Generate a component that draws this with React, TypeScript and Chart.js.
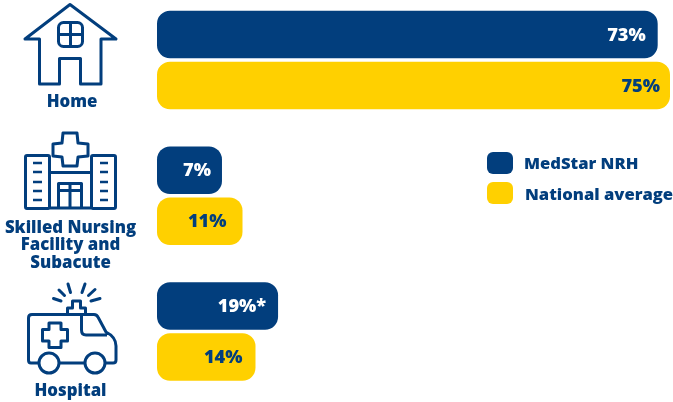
import React, { useEffect, useRef } from "react";
import { Chart, registerables } from "chart.js";

Chart.register(...registerables);

const NAVY = "#023e7d";
const YELLOW = "#ffd000";
const FONT = "'Open Sans', Lato, sans-serif";

const categories = ["Home", "Skilled Nursing Facility and Subacute", "Hospital"];
const categoryLines = [["Home"], ["Skilled Nursing", "Facility and", "Subacute"], ["Hospital"]];
const seriesNames = ["MedStar NRH", "National average"];
// Bar lengths as drawn in the picture (the small bars are not to the same scale as their labels)
const medstarLengths = [73.2, 9.5, 17.7];
const nationalLengths = [75, 12.5, 14.4];
const medstarLabels = ["73%", "7%", "19%*"];
const nationalLabels = ["75%", "11%", "14%"];

function stroke(ctx: CanvasRenderingContext2D, draw: (p: Path2D) => void, w = 3) {
  const p = new Path2D();
  draw(p);
  ctx.lineWidth = w;
  ctx.stroke(p);
}
function poly(p: Path2D, pts: number[][], close = false) {
  pts.forEach(([x, y], i) => (i ? p.lineTo(x, y) : p.moveTo(x, y)));
  if (close) p.closePath();
}

function drawHome(ctx: CanvasRenderingContext2D) {
  stroke(ctx, (p) => {
    poly(p, [[25, 39], [70, 4.5], [116, 39], [101, 39], [101, 84], [80.5, 84], [80.5, 58.5], [59.5, 58.5], [59.5, 84], [39.5, 84], [39.5, 39]], true);
    p.roundRect(58.5, 22.5, 24, 24, 5);
    poly(p, [[70.5, 22.5], [70.5, 46.5]]);
    poly(p, [[58.5, 34.5], [82.5, 34.5]]);
  });
}
function drawHospital(ctx: CanvasRenderingContext2D) {
  stroke(ctx, (p) => {
    poly(p, [[63, 133], [77, 133], [78, 143], [88, 144], [88, 156], [78, 157], [77, 166], [63, 166], [62, 157], [53, 156], [53, 144], [62, 143]], true);
    p.roundRect(25.5, 155.5, 24, 53, 1.5);
    p.roundRect(91.5, 155.5, 24, 53, 1.5);
    poly(p, [[49.5, 172.5], [91.5, 172.5]]);
    poly(p, [[49.5, 208], [91.5, 208]]);
    p.rect(58.5, 183.5, 23, 24.5);
    poly(p, [[58.5, 190.5], [81.5, 190.5]]);
    poly(p, [[70, 183.5], [70, 208]]);
  });
  stroke(ctx, (p) => {
    [163, 172, 182, 191, 200].forEach((y) => {
      poly(p, [[33, y], [42, y]]);
      poly(p, [[100, y], [108, y]]);
    });
  }, 2.6);
}
function drawAmbulance(ctx: CanvasRenderingContext2D) {
  stroke(ctx, (p) => {
    p.moveTo(39, 363);
    p.lineTo(31, 363);
    p.quadraticCurveTo(28.5, 363, 28.5, 360);
    p.lineTo(28.5, 318);
    p.quadraticCurveTo(28.5, 314.5, 32, 314.5);
    p.lineTo(94, 314.5);
    p.quadraticCurveTo(97, 314.5, 98.5, 318);
    p.lineTo(106, 332);
    p.quadraticCurveTo(116, 337, 116, 346);
    p.lineTo(116, 360);
    p.quadraticCurveTo(116, 363, 113, 363);
    p.lineTo(105, 363);
    p.moveTo(85, 363);
    p.lineTo(59, 363);
    p.moveTo(59, 363);
    p.arc(49, 363, 10, 0, Math.PI * 2);
    p.moveTo(105, 363);
    p.arc(95, 363, 10, 0, Math.PI * 2);
    p.moveTo(81.5, 314.5);
    p.lineTo(81.5, 330);
    p.quadraticCurveTo(81.5, 335, 86, 335);
    p.lineTo(107, 335);
    poly(p, [[49, 323], [61, 323], [61, 329.5], [67.5, 329.5], [67.5, 341], [61, 341], [61, 347.5], [49, 347.5], [49, 341], [42.5, 341], [42.5, 329.5], [49, 329.5]], true);
    poly(p, [[67.5, 314.5], [67.5, 308], [72.5, 308], [72.5, 301], [80.5, 301], [80.5, 308], [85.5, 308], [85.5, 314.5]]);
  });
  ctx.lineCap = "round";
  stroke(ctx, (p) => {
    poly(p, [[53.5, 298.5], [61, 301]]);
    poly(p, [[59, 290], [64.5, 295.5]]);
    poly(p, [[68, 284], [70.5, 292.5]]);
    poly(p, [[85, 284], [82, 292.5]]);
    poly(p, [[95, 289.5], [88.5, 295.5]]);
    poly(p, [[100, 298.5], [91, 301]]);
  });
  ctx.lineCap = "butt";
}

const decorPlugin = {
  id: "decor",
  afterDatasetsDraw(chart: any) {
    const ctx: CanvasRenderingContext2D = chart.ctx;
    ctx.save();
    ctx.strokeStyle = NAVY;
    ctx.lineJoin = "round";
    drawHome(ctx);
    drawHospital(ctx);
    drawAmbulance(ctx);

    // Category labels below the icons
    ctx.fillStyle = NAVY;
    ctx.font = `800 16.8px ${FONT}`;
    ctx.textAlign = "center";
    ctx.textBaseline = "middle";
    const firstLineY = [102, 228, 391];
    const centerX = [72, 70.5, 70.5];
    categoryLines.forEach((lines, i) =>
      lines.forEach((line, j) => ctx.fillText(line, centerX[i], firstLineY[i] + j * 17.7))
    );

    // Value labels inside the bars
    ctx.textAlign = "right";
    ctx.font = `800 18.2px ${FONT}`;
    const labels = [medstarLabels, nationalLabels];
    const colors = ["#ffffff", NAVY];
    const insets = [[12, 11, 12], [10, 16, 13]];
    chart.data.datasets.forEach((_: any, d: number) => {
      chart.getDatasetMeta(d).data.forEach((bar: any, i: number) => {
        ctx.fillStyle = colors[d];
        ctx.fillText(labels[d][i], bar.x - insets[d][i], bar.y + 1);
      });
    });

    // Legend
    const legendY = [163, 193];
    const legendTextX = [524, 525];
    const legendTextDy = [1, 2];
    const swatches = [NAVY, YELLOW];
    ctx.textAlign = "left";
    ctx.font = `800 16.6px ${FONT}`;
    seriesNames.forEach((name, i) => {
      ctx.fillStyle = swatches[i];
      ctx.beginPath();
      ctx.roundRect(487, legendY[i] - 11, 26, 22, 6);
      ctx.fill();
      ctx.fillStyle = NAVY;
      ctx.fillText(name, legendTextX[i], legendY[i] + legendTextDy[i]);
    });
    ctx.restore();
  },
};

export default function App() {
  const ref = useRef<HTMLCanvasElement>(null);
  useEffect(() => {
    document.body.style.margin = "0";
    const chart = new Chart(ref.current!, {
      type: "bar",
      data: {
        labels: categories,
        datasets: [
          { label: seriesNames[0], data: medstarLengths, backgroundColor: NAVY },
          { label: seriesNames[1], data: nationalLengths, backgroundColor: YELLOW },
        ],
      },
      options: {
        indexAxis: "y",
        responsive: false,
        animation: false,
        layout: { padding: { left: 157, right: 3, top: 60, bottom: 70.5 } },
        datasets: {
          bar: {
            categoryPercentage: 0.7516,
            barPercentage: 0.93,
            borderRadius: 13,
            borderSkipped: false,
            clip: false,
          },
        },
        scales: {
          x: { display: false, min: 0, max: 75, grid: { display: false } },
          y: { display: false, offset: false, grid: { display: false } },
        },
        plugins: { legend: { display: false }, tooltip: { enabled: false } },
      } as any,
      plugins: [decorPlugin],
    });
    return () => chart.destroy();
  }, []);
  return <canvas ref={ref} width={673} height={402} style={{ display: "block" }} />;
}
